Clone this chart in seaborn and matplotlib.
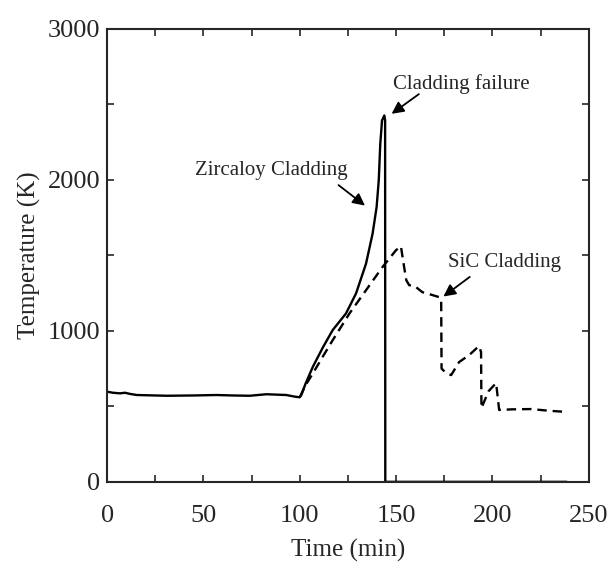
import numpy as np
import pandas as pd
import seaborn as sns
import matplotlib.pyplot as plt
from matplotlib.ticker import MultipleLocator

# Zircaloy cladding temperature (K) vs time (min)
zirc_t = [0, 3, 6.7, 9.3, 12, 15.4, 30.9, 45, 56.7, 65, 74, 82.7, 93, 97,
          99.9, 100.8, 103, 106.8, 112, 117.1, 124, 129.2, 134.4, 137.8,
          139.9, 141, 141.8, 142.7, 143.9, 144.3, 144.4, 160, 200, 238.6]
zirc_T = [597, 590, 586, 590, 582, 575, 570, 572, 575, 572, 570, 580, 575,
          565, 560, 575, 650, 762, 890, 1005, 1115, 1247, 1445, 1643,
          1820, 1996, 2239, 2393, 2426, 2395, 0, 0, 0, 0]

# SiC cladding temperature (K) vs time (min)
sic_t = [100, 103, 106.8, 112, 117.1, 125.8, 134.4, 143, 149.9, 152.5,
         154.2, 155.3, 156.8, 158.5, 160.4, 163.6, 168, 172.4, 173.4,
         173.6, 176, 178.6, 182.7, 188, 193, 194.1, 194.3, 198, 201.9, 202.4,
         203.5, 210, 220, 230, 238.6]
sic_T = [560, 640, 718, 830, 938, 1115, 1269, 1423, 1533, 1560,
         1420, 1335, 1302, 1300, 1289, 1256, 1240, 1223, 1210,
         750, 720, 707, 793, 840, 899, 860, 489, 600, 654, 600,
         476, 480, 482, 470, 463]

sns.set_style("ticks")
plt.rcParams['font.family'] = ['Liberation Serif', 'DejaVu Serif']

zirc = pd.DataFrame({'Time': zirc_t, 'Temp': zirc_T})
sic = pd.DataFrame({'Time': sic_t, 'Temp': sic_T})

fig = plt.figure(figsize=(6.12, 5.75), dpi=100)
ax = fig.add_axes([0.175, 0.162, 0.787, 0.788])

sns.lineplot(data=zirc, x='Time', y='Temp', ax=ax, color='black',
             linewidth=1.7, sort=False, estimator=None)
sns.lineplot(data=sic, x='Time', y='Temp', ax=ax, color='black',
             linewidth=1.7, sort=False, estimator=None, linestyle=(0, (4, 2.5)))

ax.set_xlim(0, 250)
ax.set_ylim(0, 3000)
ax.xaxis.set_major_locator(MultipleLocator(50))
ax.xaxis.set_minor_locator(MultipleLocator(25))
ax.yaxis.set_major_locator(MultipleLocator(1000))
ax.yaxis.set_minor_locator(MultipleLocator(500))
ax.tick_params(which='both', direction='in', top=True, right=True,
               length=5, width=1.2, labelsize=19)
ax.tick_params(axis='x', pad=17)
ax.tick_params(axis='y', pad=5)
for s in ax.spines.values():
    s.set_linewidth(1.5)

ax.set_xlabel('Time (min)', fontsize=18, labelpad=8)
ax.set_ylabel('Temperature (K)', fontsize=18, labelpad=5)

arrow = dict(arrowstyle='-|>', color='black', lw=1.3, mutation_scale=18)
ax.text(85.4, 2060, 'Zircaloy Cladding', fontsize=15, ha='center', va='center')
ax.annotate('', xy=(135, 1818), xytext=(119, 1976), arrowprops=arrow)
ax.text(183.7, 2637, 'Cladding failure', fontsize=15, ha='center', va='center')
ax.annotate('', xy=(146.5, 2426), xytext=(163, 2578), arrowprops=arrow)
ax.text(206.5, 1454, 'SiC Cladding', fontsize=15, ha='center', va='center')
ax.annotate('', xy=(173.4, 1216), xytext=(189.4, 1368), arrowprops=arrow)

fig.savefig('out.png', dpi=100)
